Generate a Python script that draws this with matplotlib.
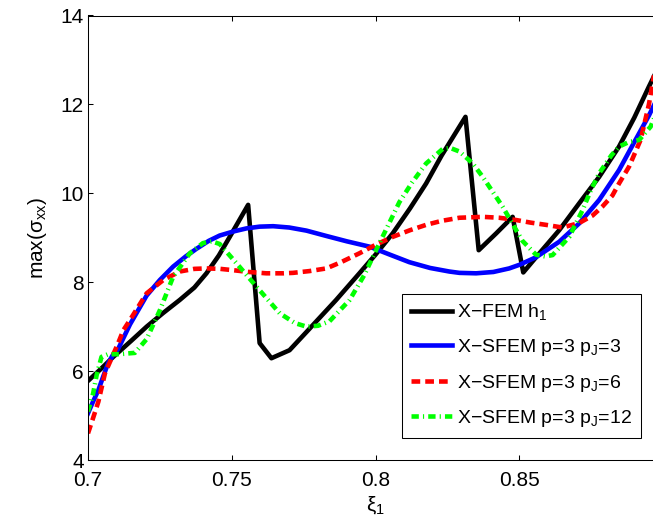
import matplotlib
matplotlib.use('Agg')
import matplotlib.pyplot as plt

# X-FEM h1 (black)
xfem_x = [0.7000, 0.7045, 0.7088, 0.7150, 0.7204, 0.7260, 0.7319, 0.7370, 0.7412, 0.7455,
          0.7493, 0.7525, 0.7557, 0.7597, 0.7638, 0.7701, 0.7760, 0.7800, 0.7863, 0.7944,
          0.8000, 0.8060, 0.8120, 0.8176, 0.8230, 0.8292, 0.8313, 0.8359, 0.8420, 0.8477,
          0.8514, 0.8570, 0.8639, 0.8708, 0.8778, 0.8847, 0.8900, 0.8951, 0.8970]
xfem_y = [5.78, 6.05, 6.32, 6.68, 7.00, 7.30, 7.60, 7.88, 8.20, 8.60,
          9.02, 9.38, 9.74, 6.63, 6.29, 6.47, 6.88, 7.16, 7.60, 8.20,
          8.62, 9.10, 9.66, 10.22, 10.85, 11.50, 11.72, 8.72, 9.10, 9.47,
          8.22, 8.65, 9.17, 9.77, 10.37, 11.05, 11.70, 12.40, 12.65]

# X-SFEM p=3 pJ=3 (blue)
pj3_x = [0.7000, 0.7018, 0.7036, 0.7053, 0.7070, 0.7088, 0.7105, 0.7146, 0.7204, 0.7250,
         0.7296, 0.7340, 0.7377, 0.7420, 0.7458, 0.7505, 0.7551, 0.7597, 0.7644, 0.7700,
         0.7760, 0.7829, 0.7900, 0.7979, 0.8050, 0.8118, 0.8190, 0.8257, 0.8292, 0.8350,
         0.8410, 0.8465, 0.8500, 0.8558, 0.8639, 0.8708, 0.8778, 0.8847, 0.8900, 0.8951,
         0.8970]
pj3_y = [5.05, 5.32, 5.57, 5.88, 6.18, 6.38, 6.50, 7.05, 7.70, 8.05,
         8.35, 8.58, 8.75, 8.93, 9.05, 9.14, 9.21, 9.25, 9.26, 9.23,
         9.16, 9.04, 8.92, 8.80, 8.62, 8.45, 8.32, 8.24, 8.21, 8.20,
         8.23, 8.31, 8.39, 8.56, 8.91, 9.32, 9.85, 10.52, 11.15, 11.75,
         12.00]

# X-SFEM p=3 pJ=6 (red)
pj6_x = [0.7000, 0.7018, 0.7036, 0.7059, 0.7082, 0.7105, 0.7123, 0.7146, 0.7204, 0.7262,
         0.7319, 0.7370, 0.7412, 0.7460, 0.7505, 0.7560, 0.7620, 0.7680, 0.7713, 0.7770,
         0.7829, 0.7880, 0.7944, 0.8000, 0.8060, 0.8120, 0.8176, 0.8230, 0.8292, 0.8373,
         0.8430, 0.8488, 0.8540, 0.8593, 0.8650, 0.8708, 0.8755, 0.8789, 0.8824, 0.8847,
         0.8882, 0.8922, 0.8951, 0.8970]
pj6_y = [4.60, 4.95, 5.31, 5.95, 6.29, 6.63, 6.92, 7.15, 7.75, 8.05,
         8.24, 8.30, 8.31, 8.30, 8.27, 8.23, 8.20, 8.20, 8.21, 8.25,
         8.31, 8.45, 8.65, 8.84, 9.02, 9.17, 9.29, 9.38, 9.45, 9.47,
         9.45, 9.40, 9.34, 9.29, 9.23, 9.33, 9.50, 9.70, 9.95, 10.22,
         10.60, 11.20, 12.00, 12.70]

# X-SFEM p=3 pJ=12 (green)
pj12_x = [0.7000, 0.7018, 0.7030, 0.7047, 0.7070, 0.7105, 0.7163, 0.7204, 0.7250, 0.7296,
          0.7354, 0.7400, 0.7430, 0.7458, 0.7516, 0.7586, 0.7667, 0.7720, 0.7760, 0.7800,
          0.7840, 0.7910, 0.7960, 0.8002, 0.8083, 0.8128, 0.8176, 0.8234, 0.8260, 0.8292,
          0.8337, 0.8373, 0.8442, 0.8511, 0.8558, 0.8590, 0.8616, 0.8674, 0.8720, 0.8749,
          0.8778, 0.8820, 0.8847, 0.8880, 0.8917, 0.8957, 0.8970]
pj12_y = [5.09, 5.50, 5.91, 6.32, 6.38, 6.38, 6.41, 6.72, 7.37, 8.12,
          8.65, 8.88, 8.92, 8.86, 8.43, 7.90, 7.30, 7.08, 7.00, 7.02,
          7.12, 7.60, 8.15, 8.72, 9.80, 10.25, 10.67, 11.00, 11.02, 10.94,
          10.68, 10.37, 9.70, 8.93, 8.62, 8.58, 8.61, 9.02, 9.62, 10.07,
          10.45, 10.85, 11.05, 11.15, 11.20, 11.50, 11.70]

labels = ['X\u2212FEM h$_1$',
          'X\u2212SFEM p=3 p$_J$=3',
          'X\u2212SFEM p=3 p$_J$=6',
          'X\u2212SFEM p=3 p$_J$=12']

plt.rcParams['font.family'] = ['Liberation Sans', 'DejaVu Sans']
plt.rcParams['mathtext.fontset'] = 'custom'
plt.rcParams['mathtext.rm'] = 'Liberation Sans'
plt.rcParams['mathtext.it'] = 'Liberation Sans:italic'
plt.rcParams['mathtext.default'] = 'regular'

fig = plt.figure(figsize=(6.53, 5.25), dpi=100)
ax = fig.add_axes([88 / 653, 65 / 525, 575 / 653, 444.5 / 525])

lw = 3.3
ax.plot(xfem_x, xfem_y, color='black', lw=lw, label=labels[0])
ax.plot(pj3_x, pj3_y, color='blue', lw=lw, label=labels[1])
ax.plot(pj6_x, pj6_y, color='red', lw=lw, dashes=(1.9, 1.1), dash_capstyle='butt', label=labels[2])
ax.plot(pj12_x, pj12_y, color='#00ff00', lw=lw, dashes=(1.6, 0.9, 0.25, 0.9),
        dash_capstyle='butt', label=labels[3])

ax.set_xlim(0.7, 0.9)
ax.set_ylim(4, 14)
ax.set_xticks([0.7, 0.75, 0.8, 0.85])
ax.set_xticklabels(['0.7', '0.75', '0.8', '0.85'])
ax.set_yticks([4, 6, 8, 10, 12, 14])
ax.tick_params(direction='in', top=True, right=True, length=3.6, width=0.75, labelsize=15)
ax.tick_params(axis='x', pad=8)
ax.tick_params(axis='y', pad=3)
for s in ax.spines.values():
    s.set_linewidth(0.75)

ax.set_xlabel('\u03be$_1$', fontsize=15, labelpad=3)
ax.set_ylabel('max(\u03c3$_{xx}$)', fontsize=15, labelpad=8)

leg = ax.legend(loc='lower right', bbox_to_anchor=(0.962, 0.0495), borderaxespad=0,
                fontsize=14, handlelength=2.1, handletextpad=0.3, labelspacing=0.75,
                borderpad=0.45, fancybox=False, framealpha=1, edgecolor='black')
leg.get_frame().set_linewidth(0.75)

fig.savefig('out.png', dpi=100)
